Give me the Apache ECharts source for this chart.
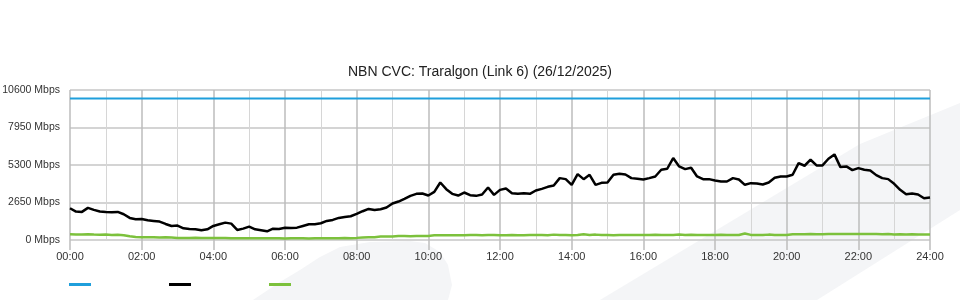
<!DOCTYPE html>
<html><head><meta charset="utf-8">
<script src="https://cdn.jsdelivr.net/npm/echarts@6/dist/echarts.min.js"></script>
<style>html,body{margin:0;padding:0;background:#fff}#c{width:960px;height:300px}</style>
</head><body><div id="c"></div>
<script>
const chartTitle = 'NBN CVC: Traralgon (Link 6) (26/12/2025)';
const xTickLabels = ['00:00','02:00','04:00','06:00','08:00','10:00','12:00','14:00','16:00','18:00','20:00','22:00','24:00'];
const yTicks = [0, 2650, 5300, 7950, 10600];
const stepMinutes = 10;           // one sample every 10 minutes, 00:00 .. 24:00
const capacityTimes = [0, 1440];  // minutes
const capacity = [10000, 10000];  // Mbps
const traffic = [
  2245,2009,1985,2269,2127,2009,1985,1962,1985,1820,1560,1465,1489,1394,1347,1300,1134,993,1016,827,780,756,685,756,993,1111,1229,1158,709,803,945,756,685,614,803,780,870,
  851,874,993,1111,1111,1182,1347,1418,1560,1631,1678,1843,2033,2198,2127,2174,2292,2576,2718,2907,3120,3261,3285,3143,3403,4065,3592,3261,3143,3356,3167,3120,3214,3710,3190,3540,
  3640,3309,3261,3309,3261,3498,3616,3758,3852,4372,4301,3900,4656,4301,4609,3900,4041,4065,4609,4679,4632,4372,4325,4278,4372,4490,4963,5034,5790,5199,5010,5105,4490,4301,4301,4207,
  4136,4136,4372,4278,3900,4018,3994,3923,4065,4396,4490,4490,4609,5436,5247,5672,5270,5270,5743,6050,5152,5199,4939,5081,4963,4916,4585,4372,4301,3970,3545,3238,3285,3214,2954,3001
];
const upload = [
  400,390,390,400,380,370,380,360,370,340,
  260,220,200,190,200,180,190,170,150,
  150,140,160,150,140,150,150,140,130,120,130,120,120,120,120,120,120,110,
  120,120,130,110,120,120,120,130,120,140,130,150,
  180,200,200,240,240,250,280,280,270,280,280,290,
  330,330,340,330,330,340,350,350,340,350,350,340,
  340,350,330,340,350,360,350,340,380,350,350,340,350,400,360,380,350,350,340,350,360,350,350,360,
  360,370,360,350,360,380,360,370,350,360,350,360,370,360,360,350,460,360,360,350,380,360,350,350,
  400,400,410,420,400,410,420,420,430,430,420,430,430,430,420,410,420,390,400,380,400,390,380,380
];
const seriesNames = ['Capacity', 'Download', 'Upload'];
const colors = ['#1f9fdc', '#000000', '#7cc13c'];

const toPairs = arr => arr.map((v, i) => [i * stepMinutes, v]);
const font = "'Liberation Sans', Arial, sans-serif";

const chart = echarts.init(document.getElementById('c'), null, {renderer: 'canvas'});
const legendLefts = [69, 169, 269];
chart.setOption({
  animation: false,
  backgroundColor: '#fff',
  textStyle: {fontFamily: font},
  title: {
    text: chartTitle, left: 'center', top: 60,
    textStyle: {fontSize: 14, fontWeight: 'normal', color: '#222', fontFamily: font}
  },
  graphic: [
    {type: 'polygon', z: -10, silent: true,
     shape: {points: [[600,300],[860,144],[960,103],[960,210],[817,300]]},
     style: {fill: '#f4f5f7'}},
    {type: 'polygon', z: -10, silent: true,
     shape: {points: [[253,300],[280,282],[300,270],[320,257],[340,247],[370,242],[410,241],[425,243],[440,252],[448,265],[452,285],[448,300]]},
     style: {fill: '#f4f5f7'}}
  ],
  legend: seriesNames.map((n, i) => ({
    data: [n], left: legendLefts[i], top: 283, icon: 'rect', padding: 0,
    itemWidth: 22, itemHeight: 3, itemGap: 0, formatter: () => '',
    selectedMode: false, textStyle: {fontSize: 4}
  })),
  grid: {left: 70, right: 30, top: 90, height: 150, containLabel: false, outerBoundsMode: 'none'},
  xAxis: {
    type: 'value', min: 0, max: 1440, interval: 120,
    axisLine: {show: false},
    axisTick: {show: true, length: 10, lineStyle: {color: '#bdbdbd', width: 1.5}},
    axisLabel: {
      margin: 11, fontSize: 11, color: '#333', fontFamily: font,
      formatter: v => xTickLabels[Math.round(v / 120)]
    },
    splitLine: {show: true, lineStyle: {color: '#bdbdbd', width: 1.5}},
    minorTick: {show: false, splitNumber: 2},
    minorSplitLine: {show: true, lineStyle: {color: '#d6d6d6', width: 1}}
  },
  yAxis: {
    type: 'value', min: yTicks[0], max: yTicks[yTicks.length - 1], interval: yTicks[1] - yTicks[0],
    axisLine: {show: false}, axisTick: {show: false},
    axisLabel: {margin: 10, fontSize: 10.5, color: '#333', fontFamily: font, formatter: v => v + ' Mbps'},
    splitLine: {show: true, lineStyle: {color: '#c6c6c6', width: 1.5}}
  },
  series: [
    {name: seriesNames[0], type: 'line', data: capacityTimes.map((t, i) => [t, capacity[i]]),
     showSymbol: false, symbol: 'none', lineStyle: {color: colors[0], width: 2}, itemStyle: {color: colors[0]}},
    {name: seriesNames[1], type: 'line', data: toPairs(traffic),
     showSymbol: false, symbol: 'none', lineStyle: {color: colors[1], width: 2.5}, itemStyle: {color: colors[1]}},
    {name: seriesNames[2], type: 'line', data: toPairs(upload),
     showSymbol: false, symbol: 'none', lineStyle: {color: colors[2], width: 2.5}, itemStyle: {color: colors[2]}}
  ]
});
</script>
</body></html>
